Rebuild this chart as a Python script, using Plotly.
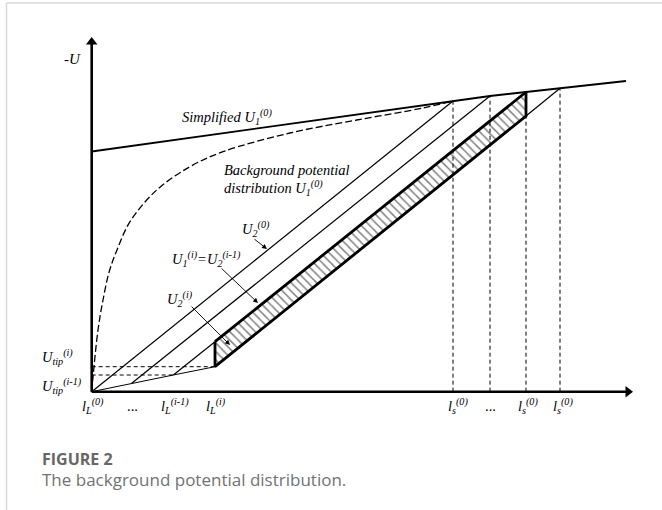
import plotly.graph_objects as go

# ---- schematic data (diagram units; origin = axis intersection) ----
simplified_x = [0, 361.3, 398.3, 434.3, 468.3, 534.3]
simplified_y = [240.2, 290.7, 295.7, 299.7, 303.4, 310.7]

background_x = [0, 1.3, 6.3, 11.3, 17.5, 25.3, 38.3, 65, 98.3, 131.3, 198.3, 265, 331.3, 361.3]
background_y = [0, 14.7, 61.7, 91.7, 120, 141.7, 170, 201.7, 225, 240, 258.7, 271.7, 283.7, 290.7]

lL_pos = [0, 40, 81.6, 123.3]          # l_L^(0), ..., l_L^(i-1), l_L^(i)
lL_level = [0, 8.4, 16.7, 25.0]        # potential at the leader tips
ls_pos = [361.3, 398.3, 434.3, 468.3]  # l_s^(0) positions
ls_level = [290.7, 295.7, 299.7, 303.4]

hatch_top_left = 50.0
hatch_bottom_right = 275.7

y_axis_top = 354.7
x_axis_end = 541.3

fig = go.Figure()
BLACK = "black"

def line(x, y, width=1.2, dash=None, shape="linear"):
    fig.add_trace(go.Scatter(x=x, y=y, mode="lines", hoverinfo="skip",
                             line=dict(color=BLACK, width=width, dash=dash, shape=shape)))

# hatched region
fig.add_trace(go.Scatter(
    x=[lL_pos[3], ls_pos[2], ls_pos[2], lL_pos[3], lL_pos[3]],
    y=[hatch_top_left, ls_level[2], hatch_bottom_right, lL_level[3], hatch_top_left],
    mode="lines", fill="toself", hoverinfo="skip",
    line=dict(color=BLACK, width=2.8),
    fillcolor="white",
    fillpattern=dict(shape="\\", size=6, solidity=0.25, fgcolor=BLACK, bgcolor="white"),
))

# simplified U1 line
line(simplified_x, simplified_y, width=1.8)
# background potential (dashed curve)
line(background_x, background_y, width=1.3, dash="7px,3px", shape="spline")

# U2 lines
line([lL_pos[0], ls_pos[0]], [lL_level[0], ls_level[0]])
line([lL_pos[1], ls_pos[1]], [lL_level[1], ls_level[1]])
line([lL_pos[2], lL_pos[3]], [lL_level[2], hatch_top_left])
line([ls_pos[2], ls_pos[3]], [hatch_bottom_right, ls_level[3]])
# bottom polyline from origin
line(lL_pos, lL_level, width=1.0)

# horizontal dashed tip levels
line([0, lL_pos[2]], [lL_level[2], lL_level[2]], width=1.0, dash="4px,3px")
line([0, lL_pos[3]], [lL_level[3], lL_level[3]], width=1.0, dash="4px,3px")
# vertical dashed at l_s
for xs, ys in zip(ls_pos, ls_level):
    line([xs, xs], [0, ys], width=1.0, dash="4px,3px")

# axes
line([0, 0], [0, y_axis_top - 5], width=2.6)
line([0, x_axis_end - 5], [0, 0], width=2.6)
fig.add_trace(go.Scatter(x=[0], y=[y_axis_top - 5], mode="markers", hoverinfo="skip",
                         marker=dict(symbol="triangle-up", size=10, color=BLACK)))
fig.add_trace(go.Scatter(x=[x_axis_end - 5], y=[0], mode="markers", hoverinfo="skip",
                         marker=dict(symbol="triangle-right", size=10, color=BLACK)))

FS = 14.5
SERIF = dict(family="Liberation Serif", size=FS, color=BLACK)
ann = []

def txt(x, y, s, xanchor="left", size=FS):
    f = dict(SERIF); f["size"] = size
    ann.append(dict(x=x, y=y, xref="x", yref="y", text=s, showarrow=False,
                    xanchor=xanchor, yanchor="middle", font=f))

def leader(x0, y0, x1, y1):
    ann.append(dict(x=x1, y=y1, ax=x0, ay=y0, xref="x", yref="y", axref="x", ayref="y",
                    text="", showarrow=True, arrowhead=2, arrowsize=1.1, arrowwidth=0.9,
                    arrowcolor=BLACK))

txt(-19.7, 332.7, "<i>-U</i>", xanchor="center", size=15)
txt(88.3, 274.7, "<i>Simplified U<sub>1</sub><sup>(0)</sup></i>")
txt(130.3, 221.7, "<i>Background potential</i>")
txt(130.3, 203.4, "<i>distribution U<sub>1</sub><sup>(0)</sup></i>")
txt(148.3, 162.7, "<i>U<sub>2</sub><sup>(0)</sup></i>")
leader(161.3, 153.7, 175.3, 142.7)
txt(78.3, 132.7, "<i>U<sub>1</sub><sup>(i)</sup>=U<sub>2</sub><sup>(i-1)</sup></i>")
leader(128.3, 124.7, 166.3, 88.7)
txt(73.3, 92.7, "<i>U<sub>2</sub><sup>(i)</sup></i>")
leader(98.3, 86.7, 138.3, 46.7)

txt(-51.7, 34.7, "<i>U<sub>tip</sub><sup>(i)</sup></i>")
txt(-51.7, 5.7, "<i>U<sub>tip</sub><sup>(i-1)</sup></i>")

xl_y = -14
txt(lL_pos[0] + 1.3, xl_y, "<i>l<sub>L</sub><sup>(0)</sup></i>", xanchor="center")
txt(lL_pos[1] + 0.8, xl_y, "...", xanchor="center")
txt(lL_pos[2] + 1.7, xl_y, "<i>l<sub>L</sub><sup>(i-1)</sup></i>", xanchor="center")
txt(lL_pos[3] + 1.0, xl_y, "<i>l<sub>L</sub><sup>(i)</sup></i>", xanchor="center")
txt(ls_pos[0] + 4.5, xl_y, "<i>l<sub>s</sub><sup>(0)</sup></i>", xanchor="center")
txt(ls_pos[1], xl_y, "...", xanchor="center")
txt(ls_pos[2] + 1.5, xl_y, "<i>l<sub>s</sub><sup>(0)</sup></i>", xanchor="center")
txt(ls_pos[3] + 2.5, xl_y, "<i>l<sub>s</sub><sup>(0)</sup></i>", xanchor="center")

# caption
ann.append(dict(x=40 / 662, y=1 - 459 / 510, xref="paper", yref="paper", text="<b>FIGURE 2</b>",
                showarrow=False, xanchor="left", yanchor="middle",
                font=dict(family="Open Sans", size=16, color="#666666")))
ann.append(dict(x=40 / 662, y=1 - 479 / 510, xref="paper", yref="paper",
                text="The background potential distribution.",
                showarrow=False, xanchor="left", yanchor="middle",
                font=dict(family="Open Sans", size=17, color="#727272")))

fig.update_layout(
    width=662, height=510, margin=dict(l=0, r=0, t=0, b=0),
    paper_bgcolor="white", plot_bgcolor="white", showlegend=False,
    xaxis=dict(range=[-91.7, 570.3], visible=False, fixedrange=True),
    yaxis=dict(range=[-118.3, 391.7], visible=False, fixedrange=True),
    annotations=ann,
    shapes=[
        dict(type="line", xref="paper", yref="paper", x0=6.5 / 662, x1=1, y0=1 - 3 / 510, y1=1 - 3 / 510,
             line=dict(color="#d9d9d9", width=1.5)),
        dict(type="line", xref="paper", yref="paper", x0=6.5 / 662, x1=6.5 / 662, y0=0, y1=1 - 3 / 510,
             line=dict(color="#d9d9d9", width=1.5)),
    ],
)

fig.write_html("out.html", config={"displayModeBar": False},
               post_script="document.body.style.margin='0px';document.body.style.overflow='hidden';")
